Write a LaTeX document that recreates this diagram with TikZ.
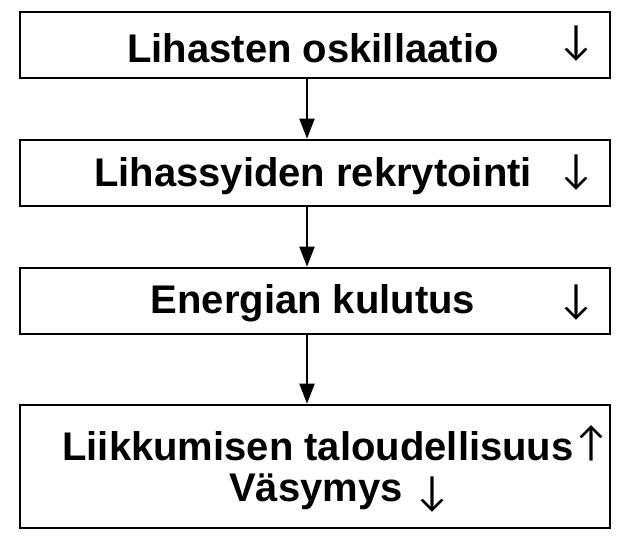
\documentclass[tikz,border=0pt]{standalone}
\usepackage{fontspec}
\setmainfont{Liberation Sans}
\newfontfamily\arrowfont{Lato}
\usetikzlibrary{arrows.meta}
\tikzset{
  box/.style={draw, line width=2.6pt, minimum width=590pt, inner sep=0pt},
  lbl/.style={font=\fontsize{40}{46}\selectfont\bfseries, inner sep=0pt},
  arr/.style={font=\arrowfont\fontsize{40}{46}\selectfont, inner sep=0pt},
  flow/.style={draw, line width=2pt, -{Triangle[length=20pt,width=15pt]}}
}
\begin{document}
\begin{tikzpicture}[x=1pt,y=1pt]
\useasboundingbox (0,0) rectangle (620,-540);
\node[box, minimum height=66pt] (b1) at (315,-45) {};
\node[box, minimum height=66pt] (b2) at (315,-173) {};
\node[box, minimum height=66pt] (b3) at (315,-301) {};
\node[box, minimum height=123pt] (b4) at (315,-466.5) {};
\node[lbl] (t1) at (313,-48) {Lihasten oskillaatio};
\node[arr] (a1) at (576,-44) {↓};
\node[lbl] (t2) at (313,-176) {Lihassyiden rekrytointi};
\node[arr] (a2) at (576,-173) {↓};
\node[lbl] (t3) at (313,-303) {Energian kulutus};
\node[arr] (a3) at (576,-303) {↓};
\node[lbl] (t4) at (318,-446) {Liikkumisen taloudellisuus};
\node[arr] (a4) at (591,-443) {↑};
\node[lbl] (t5) at (316,-492) {Väsymys};
\node[arr] (a5) at (432,-495) {↓};
\draw[flow] (b1.south -| 307,0) -- (b2.north -| 307,0);
\draw[flow] (b2.south -| 307,0) -- (b3.north -| 307,0);
\draw[flow] (b3.south -| 307,0) -- (b4.north -| 307,0);
\end{tikzpicture}
\end{document}
